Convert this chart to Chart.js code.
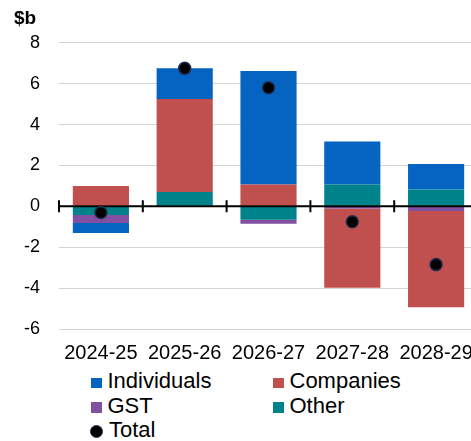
<!DOCTYPE html>
<html>
<head>
<meta charset="utf-8">
<script src="https://cdn.jsdelivr.net/npm/chart.js@4"></script>
<style>
	html, body { margin: 0; padding: 0; background: #fff; overflow: hidden; }
	#wrap { position: relative; width: 471px; height: 441px; overflow: hidden; }
	#chart { position: absolute; left: 0; top: 0; }
	#legend {
		position: absolute; left: 91px; top: 369px;
		display: grid; grid-template-columns: 182px auto; grid-auto-rows: 24.5px;
		font-family: "Liberation Sans", Arial, sans-serif; font-size: 22px; color: #000;
	}
	.item { display: flex; align-items: center; white-space: nowrap; }
	.sq { width: 10.5px; height: 10.5px; margin-right: 6px; margin-top: 3px; }
	.dot { width: 11px; height: 11px; border-radius: 50%; background: #000; border: 1.5px solid #1f2d50; margin-right: 6px; margin-left: -1px; margin-top: 2px; }
</style>
</head>
<body>
<div id="wrap">
	<canvas id="chart" width="480" height="365"></canvas>
	<div id="legend"></div>
</div>
<script>
var categories = ['2024-25', '2025-26', '2026-27', '2027-28', '2028-29'];
var individuals = [-0.48, 1.5, 5.55, 2.1, 1.25];
var companies = [1.0, 4.55, 1.07, -3.88, -4.7];
var gst = [-0.4, 0, -0.2, -0.1, -0.23];
var other = [-0.42, 0.7, -0.65, 1.07, 0.82];
var total = [-0.3, 6.75, 5.8, -0.75, -2.85];
var yMin = -6, yMax = 8, yStep = 2;

var colors = {
	individuals: '#0563c1',
	companies: '#c0504d',
	gst: '#8150a0',
	other: '#00828b'
};

// black zero line with category tick marks, drawn over the bars but under the dots
var zeroAxis = {
	id: 'zeroAxis',
	beforeDatasetDraw: function (chart, args) {
		if (args.index !== 4) return;
		var ctx = chart.ctx, x = chart.scales.x, y = chart.scales.y;
		var y0 = y.getPixelForValue(0);
		var step = x.getPixelForValue(1) - x.getPixelForValue(0);
		ctx.save();
		ctx.strokeStyle = '#000';
		ctx.lineWidth = 2;
		ctx.beginPath();
		ctx.moveTo(x.left, y0);
		ctx.lineTo(x.right, y0);
		for (var i = 0; i <= categories.length; i++) {
			var px = x.getPixelForValue(0) - step / 2 + i * step;
			ctx.moveTo(px, y0 - 6);
			ctx.lineTo(px, y0 + 6);
		}
		ctx.stroke();
		ctx.restore();
	}
};

function bar(label, data, color) {
	return {
		type: 'bar',
		label: label,
		data: data,
		backgroundColor: color,
		borderWidth: 0,
		stack: 'rev',
		order: 1,
		barPercentage: 0.67,
		categoryPercentage: 1
	};
}

new Chart(document.getElementById('chart'), {
	type: 'bar',
	data: {
		labels: categories,
		datasets: [
			bar('Other', other, colors.other),
			bar('GST', gst, colors.gst),
			bar('Companies', companies, colors.companies),
			bar('Individuals', individuals, colors.individuals),
			{
				type: 'line',
				label: 'Total',
				data: total,
				showLine: false,
				stack: 'total',
				order: 0,
				pointRadius: 6,
				pointBackgroundColor: '#000',
				pointBorderColor: '#1f2d50',
				pointBorderWidth: 1.5
			}
		]
	},
	options: {
		responsive: false,
		devicePixelRatio: 1,
		animation: false,
		layout: { autoPadding: false, padding: { left: 14, right: 2, top: 0, bottom: 0 } },
		plugins: {
			legend: { display: false },
			tooltip: { enabled: false },
			title: {
				display: true,
				text: '$b',
				align: 'start',
				color: '#000',
				font: { family: '"Liberation Sans", Arial, sans-serif', size: 19, weight: 'bold', lineHeight: 1.2 },
				padding: { top: 7, bottom: 13 }
			}
		},
		scales: {
			x: {
				stacked: true,
				afterFit: function (scale) {
					scale.height = 36;
					scale.paddingLeft = 0;
					scale.paddingRight = 0;
				},
				grid: { display: false, drawTicks: false },
				border: { display: false },
				ticks: {
					color: '#000',
					padding: 12,
					maxRotation: 0,
					font: { family: '"Liberation Sans", Arial, sans-serif', size: 20, lineHeight: 1.2 }
				}
			},
			y: {
				stacked: true,
				min: yMin,
				max: yMax,
				afterFit: function (scale) { scale.width = 45; },
				grid: {
					drawTicks: false,
					lineWidth: 1,
					color: function (c) { return c.tick && c.tick.value === 0 ? 'rgba(0,0,0,0)' : '#d4d4d4'; }
				},
				border: { display: false },
				ticks: {
					stepSize: yStep,
					color: '#000',
					padding: 19,
					font: { family: '"Liberation Sans", Arial, sans-serif', size: 18, lineHeight: 1.2 }
				}
			}
		}
	},
	plugins: [zeroAxis]
});

// legend laid out in two columns like the original
var legendItems = [
	{ label: 'Individuals', color: colors.individuals },
	{ label: 'Companies', color: colors.companies },
	{ label: 'GST', color: colors.gst },
	{ label: 'Other', color: colors.other },
	{ label: 'Total', dot: true }
];
var legendEl = document.getElementById('legend');
legendItems.forEach(function (it) {
	var row = document.createElement('div');
	row.className = 'item';
	var mark = document.createElement('span');
	if (it.dot) {
		mark.className = 'dot';
	} else {
		mark.className = 'sq';
		mark.style.background = it.color;
	}
	var txt = document.createElement('span');
	txt.textContent = it.label;
	row.appendChild(mark);
	row.appendChild(txt);
	legendEl.appendChild(row);
});
</script>
</body>
</html>
